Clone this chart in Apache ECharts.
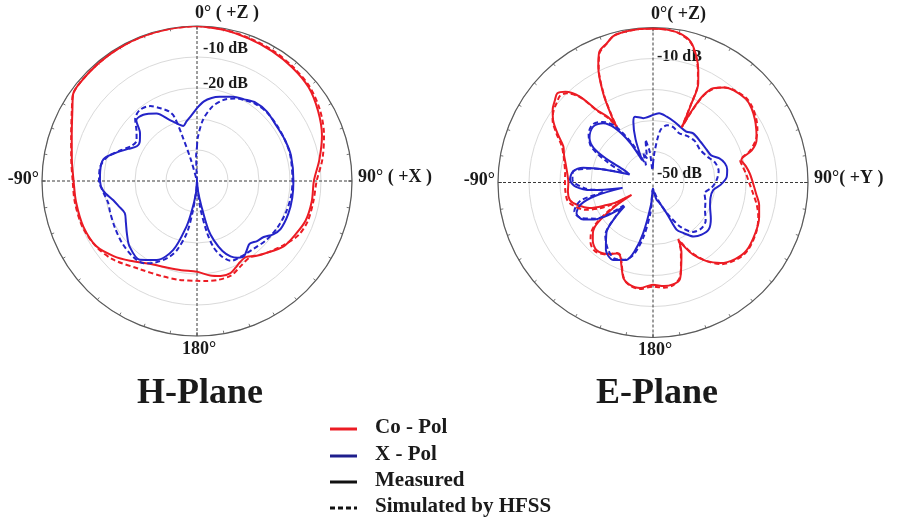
<!DOCTYPE html>
<html>
<head>
<meta charset="utf-8">
<script src="https://cdn.jsdelivr.net/npm/echarts@6/dist/echarts.min.js"></script>
<style>
  html, body { margin: 0; padding: 0; background: #fff; }
  #chart { width: 900px; height: 519px; }
</style>
</head>
<body>
<div id="chart"></div>
<script>
// ---------------- DATA (angle in degrees, clockwise from 0° top; level in dB) ----------------
const radiusTicks = [-50, -40, -30, -20, -10, 0];
const hAngleLabels = ['0° ( +Z )', '90° ( +X )', '180°', '-90°'];
const eAngleLabels = ['0°( +Z)', '90°( +Y )', '180°', '-90°'];
const hDbLabels = [[-10, '-10 dB'], [-20, '-20 dB']];
const eDbLabels = [[-10, '-10 dB'], [-50, '-50 dB']];
const planeTitles = ['H-Plane', 'E-Plane'];
const legendItems = ['Co - Pol', 'X - Pol', 'Measured', 'Simulated by HFSS'];

// H-plane, Co-Pol, measured
const hCoMeasured = [
  [0,0],[10,-0.5],[20,-1.1],[30,-1.6],[40,-2.2],[50,-3.0],[60,-4.9],[70,-7.1],[80,-9.9],[90,-12.3],
  [100,-12.4],[110,-12.7],[118,-13.8],[127,-15.0],[137,-18.0],[142,-19.3],[147,-20.8],[152,-20.4],
  [156,-19.4],[160,-18.4],[166,-18.4],[172,-19.2],[180,-20.7],
  [-170,-20.8],[-160,-20.4],[-150,-19.2],[-140,-16.4],[-132,-13.8],[-123,-11.3],[-112,-10.5],
  [-100,-10.4],[-90,-10.2],[-80,-9.0],[-70,-7.0],[-60,-3.6],[-55,-1.2],[-50,-0.7],[-40,-0.5],
  [-30,-0.3],[-20,-0.2],[-10,-0.1]
];
// H-plane, Co-Pol, simulated
const hCoSimulated = [
  [0,0],[10,-0.4],[20,-0.9],[30,-1.3],[40,-1.9],[50,-2.6],[60,-4.2],[70,-6.4],[80,-8.9],[90,-11.4],
  [100,-11.9],[110,-12.0],[118,-12.9],[127,-15.4],[137,-18.0],[145,-20.0],[153,-19.1],[160,-17.6],
  [168,-17.4],[175,-17.6],[180,-17.8],
  [-170,-17.6],[-160,-17.3],[-147,-16.1],[-133,-12.9],[-123,-11.2],[-112,-10.2],[-100,-10.0],
  [-90,-9.9],[-80,-8.8],[-70,-6.8],[-60,-3.4],[-55,-1.2],[-50,-0.7],[-40,-0.5],[-30,-0.3],
  [-20,-0.2],[-10,-0.1]
];
// H-plane, X-Pol, measured
const hXMeasured = [
  [0,-26.5],[5,-24.2],[10,-22.8],[15,-21.9],[23,-20.5],[30,-19.6],[37,-18.4],[45,-18.2],[55,-18.8],
  [65,-18.7],[75,-18.6],[90,-18.9],[100,-18.8],[110,-18.7],[120,-18.9],[125,-20.0],[130,-21.9],
  [135,-22.6],[140,-23.6],[144,-22.6],[148,-21.4],[152,-22.0],[156,-23.4],[160,-26.0],[164,-30.0],
  [167,-34.0],[170,-41.6],[175,-47.0],[180,-50],
  [-175,-46],[-170,-40],[-167,-35],[-161,-26.5],[-153,-21.4],[-144,-18.6],[-134,-19.7],[-127,-21.7],
  [-120,-23.5],[-114,-24.5],[-108,-23.5],[-103,-22.3],[-96,-19.6],[-90,-18.7],[-84,-18.6],
  [-77,-19.0],[-72,-21.6],[-65,-25.5],[-60,-27.6],[-55,-27.5],[-50,-26.0],[-45,-22.3],[-39,-22.5],
  [-31,-24.6],[-24,-28.5],[-18,-30.8],[-14,-31.7],[-10,-30.5],[-6,-29.2]
];
// H-plane, X-Pol, simulated
const hXSimulated = [
  [0,-39],[1,-36],[5.6,-30.2],[11.5,-25.6],[17.8,-22.6],[25,-20.6],[30,-19.8],[37,-18.8],[45,-18.4],
  [55,-18.6],[65,-18.7],[75,-18.8],[90,-19.2],[100,-19.3],[110,-19.6],[120,-20.0],[130,-20.6],
  [140,-21.5],[150,-21.8],[157,-22.0],[162,-24.5],[166,-28],[169,-33],[173,-41],[177,-48],[180,-50],
  [-176,-47],[-172,-40],[-169,-33],[-164,-27],[-160,-24],[-153,-20.5],[-147,-18.4],[-140,-18.0],
  [-130,-18.6],[-120,-19.5],[-110,-20.2],[-104,-20.5],[-97,-19.6],[-90,-18.4],[-82,-18.4],
  [-75,-20.0],[-68,-23.5],[-62,-26.0],[-56,-26.5],[-50,-24.5],[-45,-21.8],[-39,-20.6],[-32,-21.5],
  [-26,-24.0],[-22,-25.8],[-19.5,-28],[-18,-35],[-16,-43],[-12,-50],[-6,-50],[-2,-42]
];
// E-plane, Co-Pol, measured
const eCoMeasured = [
  [0,-0.3],[5,-0.5],[10,-1.1],[15,-3.0],[19,-7.0],[22,-11.0],[24.5,-14.8],[26,-22.0],[27.5,-29.5],
  [28.5,-23],[30,-17.5],[32.6,-13.9],[37,-11.6],[41,-10.5],[48,-9.7],[53,-10.2],[58.5,-11.4],
  [63,-12.6],[67.7,-13.9],[72,-16.5],[75.7,-20.6],[80,-19.6],[85,-18.6],[90,-17.8],[96,-16.6],
  [102,-15.0],[108,-14.0],[116,-13.2],[126,-12.7],[133,-13.8],[140,-16.1],[146,-19.5],[151,-23.5],
  [154,-27],[156,-29.5],[158,-25.5],[161,-22],[164.5,-17.6],[169,-16.5],[174,-16.4],[180,-17.0],
  [-173,-15.7],[-167,-16.2],[-163,-17.6],[-159,-21.5],[-156,-24.0],[-153,-24.3],[-148,-22.8],
  [-140,-21.6],[-134,-23.0],[-130,-24.7],[-126,-28],[-122,-36],[-120,-42],[-118,-36],[-116,-33.4],
  [-112,-28],[-106,-24.3],[-102,-22.6],[-96,-22.4],[-90,-22.7],[-84,-22.2],[-78,-21.2],[-73,-20.0],
  [-68,-18.8],[-63,-15.5],[-58,-12.0],[-54,-10.0],[-50,-8.7],[-47,-7.8],[-44,-9.3],[-40.4,-13.6],
  [-37.8,-20.4],[-34.5,-24.5],[-33,-28.5],[-32,-24.9],[-29.2,-17.1],[-25.3,-8.7],[-22.4,-4.5],
  [-18.4,-2.7],[-15,-1.0],[-10,-0.5],[-5,-0.3]
];
// E-plane, Co-Pol, simulated
const eCoSimulated = [
  [0,-0.3],[5,-0.5],[10,-1.2],[15,-3.2],[19,-7.3],[22,-11.3],[24.5,-15.2],[26,-22.5],[27.5,-30],
  [28.5,-24],[30,-18],[32.6,-14.2],[37,-11.6],[41,-10.4],[48,-9.4],[53,-9.8],[58.5,-10.9],
  [63,-12.2],[67.7,-14.2],[72,-17.2],[76,-21.0],[80,-20.6],[85,-19.8],[90,-19.0],[96,-17.6],
  [102,-15.8],[108,-14.3],[116,-13.0],[126,-12.4],[133,-13.4],[140,-15.6],[146,-19.5],[151,-24],
  [154,-27.5],[156,-30],[158,-26],[161,-22.3],[164.5,-18.0],[169,-16.2],[174,-15.9],[180,-16.4],
  [-173,-15.4],[-167,-16.0],[-163,-17.8],[-159,-21.8],[-156,-24.3],[-153,-24.5],[-148,-22.6],
  [-140,-21.0],[-134,-22.0],[-130,-23.8],[-126,-27],[-122,-34],[-120,-40],[-118,-35],[-116,-31],
  [-112,-26.5],[-106,-23.2],[-102,-21.8],[-96,-21.6],[-90,-21.6],[-84,-21.5],[-78,-20.8],
  [-73,-19.8],[-68,-18.2],[-63,-15.0],[-58,-11.8],[-54,-10.4],[-50,-9.6],[-47,-9.0],[-44,-10.0],
  [-40.4,-14.0],[-37.8,-20.8],[-34.5,-25],[-33,-29],[-32,-25.5],[-29.2,-17.5],[-25.3,-9.0],
  [-22.4,-4.8],[-18.4,-2.8],[-15,-1.0],[-10,-0.5],[-5,-0.3]
];
// E-plane, X-Pol, measured
const eXMeasured = [
  [0,-28.2],[5,-27.6],[11.8,-28.3],[20,-29.3],[25.8,-30],[33,-30.4],[39.3,-29.5],[50,-29.8],
  [58.8,-29.7],[65,-29.3],[70,-27.2],[75,-26],[80,-25.7],[86,-26.2],[92,-28.2],[97,-30.4],
  [105,-30.8],[113,-30],[122,-28],[130,-26.5],[137,-27],[143,-28.2],[149,-31],[153.5,-33],
  [156,-39],[162,-43],[168,-44.2],[174,-46.5],[180,-48],
  [-175,-43],[-169,-33.3],[-165,-27],[-161,-23.6],[-153,-21.9],[-145,-23.5],[-137,-28],[-133,-33],
  [-130,-38],[-126,-32],[-122,-27.5],[-118,-24.5],[-112,-23.4],[-107,-25.5],[-103,-31],[-100,-40],
  [-97,-30],[-93,-25],[-88,-23.2],[-82,-24],[-78,-27],[-75,-34],[-71,-42],[-67,-40],[-63,-33],
  [-60,-28],[-55,-25],[-47,-23.6],[-40,-25],[-35,-28.5],[-30,-35],[-26,-42],[-22,-35],[-18,-29.5],
  [-15.3,-28],[-8.6,-29]
];
// E-plane, X-Pol, simulated
const eXSimulated = [
  [0,-44],[3,-40],[8,-33],[14,-31],[20,-31],[28,-32],[35,-31.5],[45,-31],[55,-31.5],[65,-30.5],
  [72,-29],[80,-28.5],[88,-29.5],[95,-31],[102,-33],[110,-32],[118,-31],[126,-29],[134,-28.5],
  [141,-29.5],[148,-33],[154,-38],[160,-42],[166,-45],[172,-47],[180,-48],
  [-175,-40],[-170,-32],[-165,-26],[-160,-23.5],[-153,-22.5],[-146,-24],[-138,-27],[-132,-34],
  [-128,-38],[-122,-28],[-116,-24],[-110,-23],[-104,-26],[-100,-34],[-95,-28],[-88,-24],[-82,-24],
  [-77,-30],[-72,-40],[-66,-34],[-60,-27],[-53,-24],[-46,-23],[-40,-24.5],[-34,-28],[-28,-36],
  [-22,-44],[-18,-40],[-14,-42],[-10,-36],[-6,-40],[-2,-46]
];

// ---------------- STYLE ----------------
const RED = '#ec1c24';
const BLUE = '#2424c8';
const DASH = [5, 3];
const FONT = '"Liberation Serif", "Times New Roman", serif';
const TXT = '#1a1a1a';
const centers = [[197, 181], [653, 182.5]];
const R = 155;
const hDbOffsets = [-8, -4];
const eDbOffsets = [-2, -9];

function toPolar(pairs) {
  const pts = pairs.map(([a, db]) => [Math.max(db, -50), a < 0 ? a + 360 : a])
    .sort((p, q) => p[1] - q[1]);
  pts.push([pts[0][0], pts[0][1] + 360]);
  return pts;
}
function makeSeries(pairs, polarIndex, color, dashed, z) {
  return {
    type: 'line', coordinateSystem: 'polar', polarIndex: polarIndex,
    data: toPolar(pairs), showSymbol: false, symbol: 'none', smooth: 0.3,
    clip: false, z: z,
    lineStyle: { color: color, width: 2, type: dashed ? DASH : 'solid' },
    silent: true
  };
}
function angleAxis(i) {
  return {
    polarIndex: i, type: 'value', min: 0, max: 360, interval: 90,
    startAngle: 90, clockwise: true,
    axisLine: { show: true, lineStyle: { color: '#5a5a5a', width: 1.2 } },
    axisTick: { show: true, inside: true, length: 4, lineStyle: { color: '#5a5a5a' } },
    minorTick: { show: true, splitNumber: 9, length: 3, lineStyle: { color: '#777' } },
    axisLabel: { show: false },
    splitLine: { show: true, lineStyle: { color: '#3a3a3a', width: 1, type: [3, 2] } }
  };
}
function radiusAxis(i) {
  return {
    polarIndex: i, type: 'value', min: radiusTicks[0], max: radiusTicks[radiusTicks.length - 1],
    interval: 10,
    axisLine: { show: false }, axisTick: { show: false }, axisLabel: { show: false },
    splitLine: { show: true, lineStyle: { color: '#dadada', width: 1 } }
  };
}
function txt(text, x, y, size, align, vAlign) {
  return { type: 'text', silent: true, style: {
    text: text, x: x, y: y, font: 'bold ' + size + 'px ' + FONT, fill: TXT,
    align: align || 'left', verticalAlign: vAlign || 'middle' } };
}
function dbY(ci, v) { return centers[ci][1] - R * (v - radiusTicks[0]) / (radiusTicks[radiusTicks.length - 1] - radiusTicks[0]); }

const graphics = [];
// angle labels
[[hAngleLabels, 0], [eAngleLabels, 1]].forEach(([labs, ci]) => {
  const [cx, cy] = centers[ci];
  graphics.push(txt(labs[0], cx - 2, cy - R - 13, 18, 'left'));
  graphics.push(txt(labs[1], cx + R + 6, cy - 4, 18, 'left'));
  graphics.push(txt(labs[2], cx + 2, cy + R + 13, 18, 'center'));
  graphics.push(txt(labs[3], cx - R - 3, cy - 2, 18, 'right'));
});
// dB labels
hDbLabels.forEach(([v, s], i) => graphics.push(txt(s, centers[0][0] + 6, dbY(0, v) + hDbOffsets[i], 16, 'left', 'middle')));
eDbLabels.forEach(([v, s], i) => graphics.push(txt(s, centers[1][0] + 4, dbY(1, v) + eDbOffsets[i], 16, 'left', 'middle')));
// titles
graphics.push(txt(planeTitles[0], 200, 394, 36, 'center'));
graphics.push(txt(planeTitles[1], 657, 394, 36, 'center'));
// legend
const legColors = [RED, '#1e1e8c', '#111', '#111'];
const legY = [428, 455, 481, 507];
legendItems.forEach((s, i) => {
  graphics.push({ type: 'line', silent: true,
    shape: { x1: 330, y1: legY[i] + 1, x2: 357, y2: legY[i] + 1 },
    style: { stroke: legColors[i], lineWidth: 3, lineDash: i === 3 ? [5, 3] : null } });
  graphics.push(txt(s, 375, legY[i], 21, 'left'));
});

const chart = echarts.init(document.getElementById('chart'), null, { renderer: 'canvas' });
chart.setOption({
  animation: false,
  backgroundColor: '#ffffff',
  polar: [
    { center: centers[0], radius: R },
    { center: centers[1], radius: R }
  ],
  angleAxis: [angleAxis(0), angleAxis(1)],
  radiusAxis: [radiusAxis(0), radiusAxis(1)],
  series: [
    makeSeries(hCoMeasured, 0, RED, false, 3),
    makeSeries(hCoSimulated, 0, RED, true, 4),
    makeSeries(hXMeasured, 0, BLUE, false, 3),
    makeSeries(hXSimulated, 0, BLUE, true, 4),
    makeSeries(eCoMeasured, 1, RED, false, 3),
    makeSeries(eCoSimulated, 1, RED, true, 4),
    makeSeries(eXMeasured, 1, BLUE, false, 3),
    makeSeries(eXSimulated, 1, BLUE, true, 4)
  ],
  graphic: graphics
});
</script>
</body>
</html>
